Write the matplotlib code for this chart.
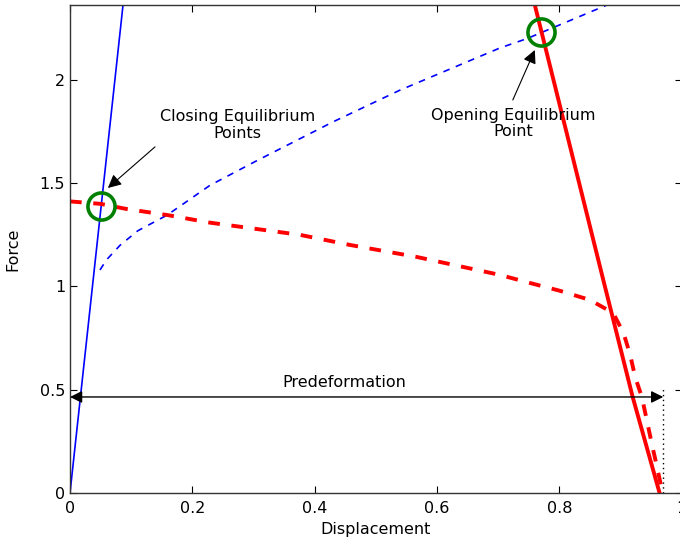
import matplotlib
matplotlib.use("Agg")
import matplotlib.pyplot as plt

# Closing spring line (linear stiffness)
closing_x = [0.0, 0.0867]
closing_f = [0.0, 2.363]

# Closing force curve (blue dashed)
elec_close_x = [0.049, 0.06, 0.082, 0.111, 0.159, 0.229, 0.306, 0.430, 0.539, 0.567, 0.703, 0.747, 0.878]
elec_close_f = [1.08, 1.13, 1.20, 1.27, 1.346, 1.49, 1.61, 1.797, 1.95, 1.985, 2.155, 2.20, 2.363]

# Opening spring line (red solid)
opening_x = [0.760, 0.872, 0.920, 0.964]
opening_f = [2.363, 1.031, 0.465, 0.0]

# Opening force curve (red dashed)
elec_open_x = [0.0, 0.05, 0.093, 0.159, 0.229, 0.376, 0.458, 0.567, 0.703, 0.752, 0.80, 0.850,
               0.888, 0.905, 0.916, 0.924, 0.935, 0.943, 0.951, 0.959, 0.969]
elec_open_f = [1.412, 1.40, 1.375, 1.346, 1.309, 1.25, 1.201, 1.143, 1.056, 1.017, 0.98, 0.935,
               0.872, 0.775, 0.668, 0.562, 0.465, 0.354, 0.242, 0.136, 0.0]

# Equilibrium points
eq_x = [0.0507, 0.770]
eq_f = [1.39, 2.232]

# Predeformation span
predef_start = 0.0
predef_end = 0.970
predef_level = 0.465

fig = plt.figure(figsize=(6.8, 5.45), dpi=100)
ax = fig.add_axes([70 / 680, 52 / 545, 611.6 / 680, 488 / 545])

ax.plot(closing_x, closing_f, color="blue", lw=1.2)
ax.plot(elec_close_x, elec_close_f, color="blue", lw=1.2, ls=(0, (4, 4)))
ax.plot(opening_x, opening_f, color="red", lw=2.8)
ax.plot(elec_open_x, elec_open_f, color="red", lw=2.8, ls=(0, (3, 3)))

ax.plot(eq_x, eq_f, ls="none", marker="o", ms=19.5, mfc="none",
        mec="#008000", mew=2.6)

# Predeformation arrow and end marker
ax.annotate("", xy=(predef_start, predef_level), xytext=(predef_end, predef_level),
            arrowprops=dict(arrowstyle="<|-|>", color="black", lw=1.0,
                            mutation_scale=18, shrinkA=0, shrinkB=0))
ax.plot([predef_end, predef_end], [0, 0.51], color="black", lw=1.0, ls=(0, (1, 2.5)))
ax.text(0.448, 0.533, "Predeformation", ha="center", va="center", fontsize=11.5)

# Equilibrium point callouts
ax.text(0.2735, 1.782, "Closing Equilibrium\nPoints", ha="center", va="center",
        fontsize=11.5, linespacing=1.1)
ax.annotate("", xy=(0.062, 1.477), xytext=(0.139, 1.676),
            arrowprops=dict(arrowstyle="-|>", color="black", lw=0.8,
                            mutation_scale=20, shrinkA=0, shrinkB=0))
ax.text(0.725, 1.789, "Opening Equilibrium\nPoint", ha="center", va="center",
        fontsize=11.5, linespacing=1.1)
ax.annotate("", xy=(0.760, 2.145), xytext=(0.724, 1.903),
            arrowprops=dict(arrowstyle="-|>", color="black", lw=0.8,
                            mutation_scale=20, shrinkA=0, shrinkB=0))

ax.set_xlim(0, 1)
ax.set_ylim(0, 2.363)
ax.set_xticks([0, 0.2, 0.4, 0.6, 0.8, 1])
ax.set_xticklabels(["0", "0.2", "0.4", "0.6", "0.8", "1"])
ax.set_yticks([0, 0.5, 1, 1.5, 2])
ax.set_yticklabels(["0", "0.5", "1", "1.5", "2"])
ax.tick_params(direction="in", top=True, right=True, length=5, labelsize=11.5, width=0.8)
ax.tick_params(axis="x", pad=6)
for s in ax.spines.values():
    s.set_color("#333333")
    s.set_linewidth(1.0)
ax.set_xlabel("Displacement", fontsize=11.5, labelpad=4)
ax.set_ylabel("Force", fontsize=11.5, labelpad=14)

fig.savefig("out.png", dpi=100)
